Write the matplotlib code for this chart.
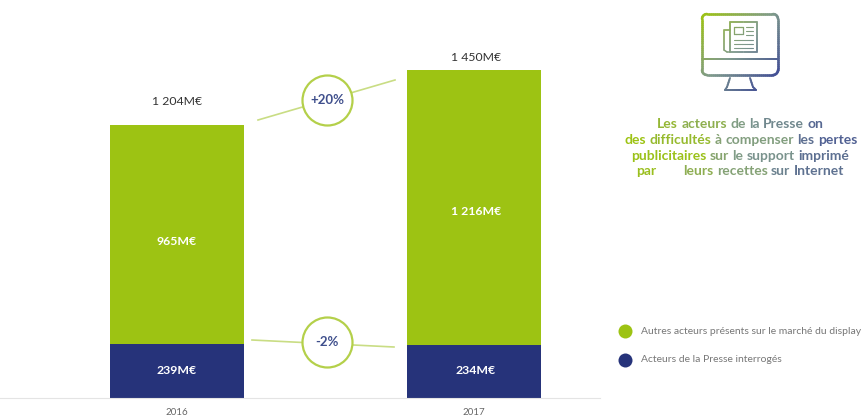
import numpy as np
import matplotlib.pyplot as plt
from matplotlib.collections import LineCollection
from matplotlib.colors import to_rgb

plt.rcParams['font.family'] = ['Lato', 'DejaVu Sans']

years = ['2016', '2017']
presse = [239, 234]
autres = [965, 1216]
totaux = ['1 204M€', '1 450M€']
labels_presse = ['239M€', '234M€']
labels_autres = ['965M€', '1 216M€']
evolutions = ['+20%', '-2%']
legende = ['Autres acteurs présents sur le marché du display', 'Acteurs de la Presse interrogés']
message = [
    'Les acteurs de la Presse on',
    'des difficultés à compenser les pertes',
    'publicitaires sur le support imprimé',
    'par        leurs recettes sur Internet',
]

VERT = '#9dc313'
BLEU = '#26337a'
W, H = 861, 417
TAILLE_MSG = 10


def degrade(t):
    # passage vert -> gris-vert -> bleu
    t = float(np.clip(t, 0, 1))
    a, b, c = map(np.array, (to_rgb(VERT), to_rgb('#7f9a8c'), to_rgb('#3f4a96')))
    return tuple(a + (b - a) * t * 2) if t < .5 else tuple(b + (c - b) * (t - .5) * 2)


fig = plt.figure(figsize=(W / 100, H / 100), dpi=100, facecolor='white')

# barres empilées, 0 M€ sur la ligne de base
base = 398
echelle = 0.2265
ax = fig.add_axes([0, (H - base) / H, 1, base / H])
x = np.arange(len(years))
ecart = 297
ax.bar(x, presse, width=134 / ecart, color=BLEU)
ax.bar(x, autres, width=134 / ecart, bottom=presse, color=VERT)
ax.set_xlim(-177 / ecart, (W - 177) / ecart)
ax.set_ylim(0, base / echelle)
ax.set_xticks(x, years, fontsize=7, color='#666666')
ax.tick_params(axis='x', length=0, pad=7)
ax.set_yticks([])
for s in ['top', 'left', 'right']:
    ax.spines[s].set_visible(False)
ax.spines['bottom'].set_color('#e4e4e4')
ax.spines['bottom'].set_bounds(-177 / ecart, (600 - 177) / ecart)
ax.patch.set_alpha(0)

# tout le reste est posé en pixels
ov = fig.add_axes([0, 0, 1, 1])
ov.set_xlim(0, W)
ov.set_ylim(H, 0)
ov.axis('off')
ov.patch.set_alpha(0)

for cx, tot, yt, la, ya, lp in zip([177, 476], totaux, [101, 57], labels_autres, [241, 211], labels_presse):
    ov.text(cx, yt, tot, ha='center', va='center', fontsize=8.8, color='#333333')
    ov.text(cx, ya, la, ha='center', va='center', fontsize=8.8, color='white', fontweight='bold')
    ov.text(cx, 370, lp, ha='center', va='center', fontsize=8.8, color='white', fontweight='bold')

# liaisons et pastilles d'évolution
liaisons = [((258, 120), (395, 80), (327, 100)), ((252, 340), (394, 347), (327, 342))]
for (p0, p1, c), txt in zip(liaisons, evolutions):
    ov.plot([p0[0], p1[0]], [p0[1], p1[1]], color='#c9dd84', lw=1.2, zorder=2)
    ov.scatter([c[0]], [c[1]], s=(2 * 25 * 0.72) ** 2, facecolor='white', edgecolor='#b4d04a', lw=1.6, zorder=3)
    ov.text(c[0], c[1], txt, ha='center', va='center', fontsize=9.5, color='#3f4f8c', fontweight='bold', zorder=4)


def trait(points, lw=1.5):
    # polyligne découpée en petits segments pour suivre le dégradé
    pts = np.array(points, float)
    fins = []
    for a, b in zip(pts[:-1], pts[1:]):
        n = max(int(np.hypot(*(b - a)) / 2), 1)
        fins.append(a + (b - a) * np.linspace(0, 1, n, endpoint=False)[:, None])
    fins.append(pts[-1:])
    fin = np.vstack(fins)
    segs = np.stack([fin[:-1], fin[1:]], axis=1)
    couleurs = [degrade((s[0, 0] - 702 + s[0, 1] - 14) / 140) for s in segs]
    ov.add_collection(LineCollection(segs, colors=couleurs, linewidths=lw, capstyle='round'))


def coins_arrondis(x0, y0, x1, y1, r):
    angles = np.linspace(0, np.pi / 2, 8)
    pts = []
    for cx, cy, dep in [(x1 - r, y0 + r, -np.pi / 2), (x1 - r, y1 - r, 0),
                        (x0 + r, y1 - r, np.pi / 2), (x0 + r, y0 + r, np.pi)]:
        pts += [(cx + r * np.cos(dep + a), cy + r * np.sin(dep + a)) for a in angles]
    pts.append(pts[0])
    return pts


# icône écran + journal
trait(coins_arrondis(702, 14, 778, 75, 5), lw=1.8)
trait([(702, 59), (778, 59)], lw=1.4)
trait([(730, 78), (727, 87), (725, 90), (756, 90), (753, 87), (750, 78)], lw=1.4)
trait([(730, 22), (757, 22), (757, 52), (730, 52), (730, 22)], lw=1.2)
trait([(730, 30), (724, 30), (724, 50), (727, 52), (730, 52)], lw=1.1)
trait([(734, 27), (743, 27), (743, 34), (734, 34), (734, 27)], lw=0.9)
for ly, x0 in [(27, 746), (31, 746), (35, 746), (40, 734), (44, 734), (48, 734)]:
    trait([(x0, ly), (753, ly)], lw=0.8)

# message, mot par mot pour le dégradé horizontal
fig.canvas.draw()
rend = fig.canvas.get_renderer()
for ligne, ly, cx in zip(message, [124, 140, 156, 171], [740, 741, 740, 740]):
    t = ov.text(0, ly, ligne, fontsize=TAILLE_MSG, fontweight='bold', va='center')
    larg = t.get_window_extent(rend).width
    avec = ov.text(0, ly, 'a a', fontsize=TAILLE_MSG, fontweight='bold').get_window_extent(rend).width
    sans = ov.text(0, ly, 'aa', fontsize=TAILLE_MSG, fontweight='bold').get_window_extent(rend).width
    espace = avec - sans
    for el in ov.texts[-3:]:
        el.remove()
    px = cx - larg / 2
    for morceau in ligne.split(' '):
        if morceau == '':
            px += espace
            continue
        m = ov.text(px, ly, morceau, fontsize=TAILLE_MSG, fontweight='bold', va='center',
                    color=degrade((px - 625) / 225))
        px += m.get_window_extent(rend).width + espace

# légende
for ly, coul, txt in zip([331, 360], [VERT, BLEU], legende):
    ov.scatter([625], [ly], s=(14 * 0.72) ** 2, color=coul, lw=0)
    ov.text(641, ly, txt, fontsize=7.5, color='#777777', va='center', clip_on=True)

fig.savefig('out.png', dpi=100)
